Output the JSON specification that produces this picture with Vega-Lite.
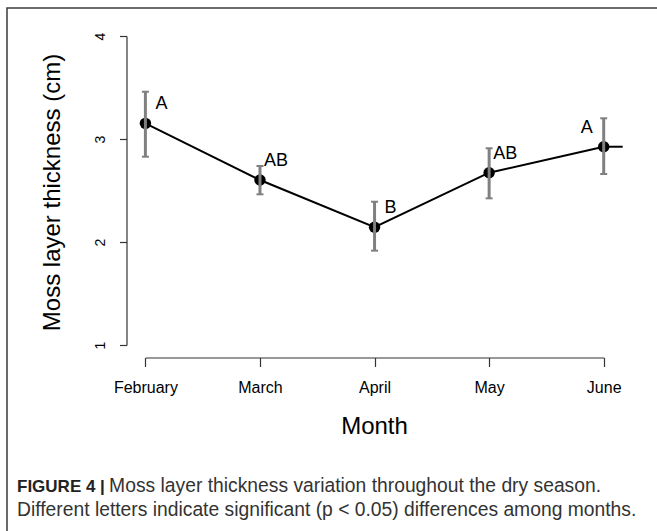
{
  "$schema": "https://vega.github.io/schema/vega-lite/v6.json",
  "width": 660,
  "height": 540,
  "autosize": "none",
  "padding": {"left": 7, "top": 8, "right": 0, "bottom": 0},
  "background": "white",
  "config": {
    "view": {"stroke": "#3a3a3a", "strokeWidth": 1.5},
    "font": "Liberation Sans"
  },
  "title": {
    "text": "FIGURE 4 |",
    "orient": "bottom",
    "anchor": "start",
    "frame": "group",
    "offset": -68.9,
    "dx": 10,
    "fontSize": 17,
    "fontWeight": "bold",
    "color": "#222222",
    "subtitle": [
      "\u200b\u2002\u2002\u2002\u2002\u2002\u2002\u2002\u2002\u2002\u00a0Moss layer thickness variation throughout the dry season.",
      "Different letters indicate significant (p < 0.05) differences among months."
    ],
    "subtitleFontSize": 19.3,
    "subtitleColor": "#333333",
    "subtitlePadding": -18.8,
    "subtitleLineHeight": 24
  },
  "data": {
    "values": [
      {"month": "February", "mean": 3.152, "lower": 2.828, "upper": 3.459, "letter": "A"},
      {"month": "March", "mean": 2.602, "lower": 2.463, "upper": 2.738, "letter": "AB"},
      {"month": "April", "mean": 2.143, "lower": 1.916, "upper": 2.391, "letter": "B"},
      {"month": "May", "mean": 2.673, "lower": 2.424, "upper": 2.910, "letter": "AB"},
      {"month": "June", "mean": 2.925, "lower": 2.660, "upper": 3.201, "letter": "A"}
    ]
  },
  "encoding": {
    "x": {
      "field": "month",
      "type": "ordinal",
      "sort": ["February", "March", "April", "May", "June"],
      "scale": {"type": "point", "range": [138.4, 596.7], "padding": 0},
      "axis": {
        "title": "Month",
        "titleFontSize": 24,
        "titleFontWeight": "normal",
        "titleColor": "black",
        "titleX": 367,
        "titleY": 75.5,
        "titleBaseline": "alphabetic",
        "titleAlign": "center",
        "labelAngle": 0,
        "labelFontSize": 16,
        "labelColor": "black",
        "labelPadding": 13,
        "tickSize": 9,
        "tickColor": "#333333",
        "domainColor": "#333333",
        "tickWidth": 1.2,
        "domainWidth": 1.2,
        "offset": -190.5,
        "grid": false
      }
    },
    "y": {
      "field": "mean",
      "type": "quantitative",
      "scale": {"domain": [1, 4], "range": [337, 28], "zero": false, "nice": false},
      "axis": {
        "title": "Moss layer thickness (cm)",
        "titleFontSize": 24,
        "titleFontWeight": "normal",
        "titleColor": "black",
        "titleAngle": -90,
        "titleX": -67.5,
        "titleY": 184,
        "titleAlign": "center",
        "titleBaseline": "alphabetic",
        "values": [1, 2, 3, 4],
        "labelAngle": -90,
        "labelAlign": "center",
        "labelBaseline": "bottom",
        "labelFontSize": 14,
        "labelColor": "black",
        "labelPadding": 12,
        "tickSize": 7,
        "tickColor": "#333333",
        "domainColor": "#333333",
        "tickWidth": 1.2,
        "domainWidth": 1.2,
        "offset": -119.5,
        "grid": false
      }
    }
  },
  "layer": [
    {
      "mark": {"type": "line", "color": "black", "strokeWidth": 2}
    },
    {
      "transform": [{"filter": "datum.month === 'June'"}],
      "mark": {"type": "tick", "orient": "horizontal", "size": 19, "thickness": 2, "color": "black", "xOffset": 9.5, "opacity": 1}
    },
    {
      "mark": {"type": "circle", "size": 130, "color": "black", "opacity": 1}
    },
    {
      "mark": {"type": "rule", "color": "#808080", "strokeWidth": 3},
      "encoding": {
        "y": {"field": "lower", "type": "quantitative"},
        "y2": {"field": "upper"}
      }
    },
    {
      "mark": {"type": "tick", "orient": "horizontal", "size": 7, "thickness": 2, "color": "#808080", "opacity": 1},
      "encoding": {
        "y": {"field": "lower", "type": "quantitative"}
      }
    },
    {
      "mark": {"type": "tick", "orient": "horizontal", "size": 7, "thickness": 2, "color": "#808080", "opacity": 1},
      "encoding": {
        "y": {"field": "upper", "type": "quantitative"}
      }
    },
    {
      "transform": [{"filter": "datum.month !== 'June'"}],
      "mark": {"type": "text", "fontSize": 18, "color": "black", "align": "center", "baseline": "middle", "dx": 16, "dy": -19},
      "encoding": {
        "text": {"field": "letter"}
      }
    },
    {
      "transform": [{"filter": "datum.month === 'June'"}],
      "mark": {"type": "text", "fontSize": 18, "color": "black", "align": "center", "baseline": "middle", "dx": -17, "dy": -19},
      "encoding": {
        "text": {"field": "letter"}
      }
    }
  ]
}
